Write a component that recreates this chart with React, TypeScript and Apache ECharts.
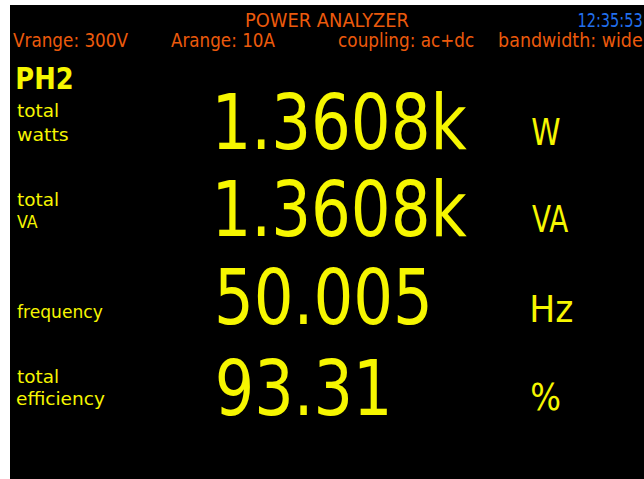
import React, { useEffect, useRef } from "react";
import * as echarts from "echarts";

// ---- data (texts and readings) ----
const headerTitle = "POWER ANALYZER";
const clockText = "12:35:53";
const settings = ["Vrange: 300V", "Arange: 10A", "coupling: ac+dc", "bandwidth: wide"];
const phaseLabel = "PH2";
const quantityLabels = [["total", "watts"], ["total", "VA"], ["frequency"], ["total", "efficiency"]];
const readings = ["1.3608k", "1.3608k", "50.005", "93.31"];
const units = ["W", "VA", "Hz", "%"];

// ---- layout ----
const W = 644;
const H = 479;
const ORANGE = "#ec5a0c";
const BLUE = "#2270ee";
const YELLOW = "#f6f600";
const FAMILY = "DejaVu Sans";
const V_FIX = 0.09; // svg central vs canvas middle baseline correction (em)

const settingsX: [number, number][] = [[13, 128], [171, 275], [339, 474], [499, 642]];
const labelBaselines = [[117, 141], [206, 228], [318], [383, 405]];
const labelRights = [[58, 68], [58, 38], [103], [58, 105]];
const readingBaselines = [150, 237, 325, 415];
const readingRights = [467, 467, 428, 387];
const unitBaselines = [145, 233, 322, 410];
const unitRights = [560, 568, 572, 560];

let ctx: CanvasRenderingContext2D | null = null;

function fit(
  text: string,
  left: number,
  right: number,
  baseline: number,
  size: number,
  color: string,
  weight: string = "normal"
) {
  if (!ctx) ctx = document.createElement("canvas").getContext("2d");
  const c = ctx as CanvasRenderingContext2D;
  c.font = `${weight} ${size}px "${FAMILY}"`;
  c.textBaseline = "alphabetic";
  const m = c.measureText(text);
  c.textBaseline = "middle";
  const mm = c.measureText(text);
  const ink = m.actualBoundingBoxLeft + m.actualBoundingBoxRight;
  const sx = ink > 0 ? (right - left) / ink : 1;
  const x = left + m.actualBoundingBoxLeft * sx;
  const y = baseline - (m.actualBoundingBoxAscent - mm.actualBoundingBoxAscent) - V_FIX * size;
  return {
    type: "text",
    x,
    y,
    scaleX: sx,
    silent: true,
    style: {
      text,
      x: 0,
      y: 0,
      fill: color,
      fontSize: size,
      fontFamily: FAMILY,
      fontWeight: weight,
      align: "left",
      verticalAlign: "middle",
    },
  };
}

export default function App() {
  const ref = useRef<HTMLDivElement>(null);
  useEffect(() => {
    if (!ref.current) return;
    const chart = echarts.init(ref.current, undefined, { renderer: "svg", width: W, height: H });
    const els: any[] = [];
    els.push({ type: "rect", shape: { x: 10, y: 5, width: W - 10, height: H - 5 }, style: { fill: "#000" }, silent: true });
    els.push(fit(headerTitle, 246, 409, 27, 19, ORANGE));
    els.push(fit(clockText, 579, 642, 27, 19, BLUE));
    settings.forEach((s, i) => els.push(fit(s, settingsX[i][0], settingsX[i][1], 47, 19, ORANGE)));
    els.push(fit(phaseLabel, 17, 72, 89, 30, YELLOW, "bold"));
    quantityLabels.forEach((lines, i) =>
      lines.forEach((t, j) => els.push(fit(t, 17, labelRights[i][j], labelBaselines[i][j], 18.5, YELLOW)))
    );
    readings.forEach((r, i) => els.push(fit(r, 218, readingRights[i], readingBaselines[i], 77, YELLOW)));
    units.forEach((u, i) => els.push(fit(u, 532, unitRights[i], unitBaselines[i], 37, YELLOW)));
    chart.setOption({ animation: false, backgroundColor: "#fff", graphic: { elements: els } });
    return () => chart.dispose();
  }, []);
  return <div ref={ref} style={{ position: "absolute", left: 0, top: 0, width: W, height: H }} />;
}
